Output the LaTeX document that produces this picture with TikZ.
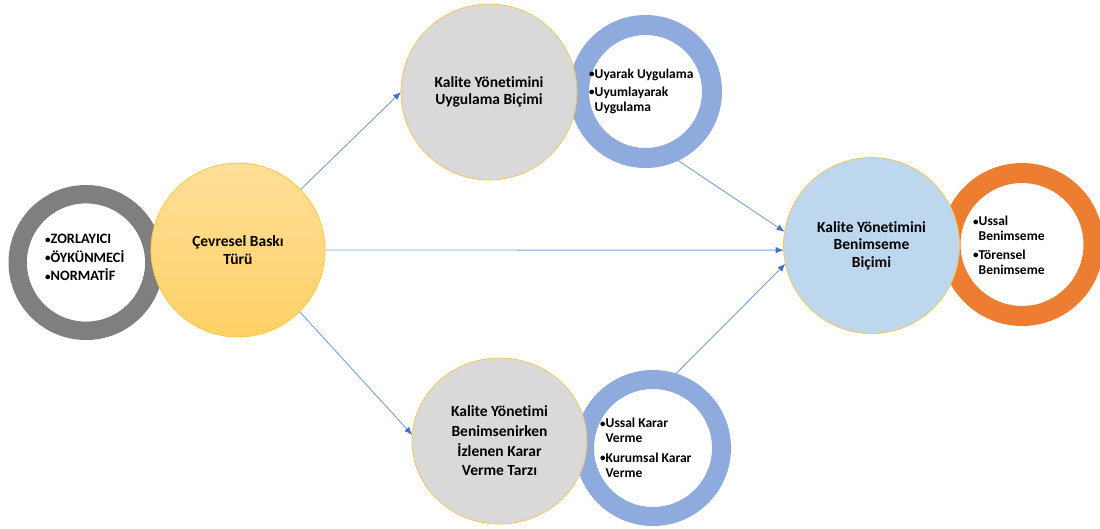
\documentclass[tikz,border=0pt]{standalone}
\usepackage{fontspec}
\setmainfont{Carlito}[Ligatures={NoCommon}]
\usetikzlibrary{arrows.meta,shapes.geometric,backgrounds}
\definecolor{ringgray}{HTML}{7F7F7F}
\definecolor{ringblue}{HTML}{8FAADC}
\definecolor{ringorange}{HTML}{ED7D31}
\definecolor{circgray}{HTML}{D9D9D9}
\definecolor{circblue}{HTML}{BDD7EE}
\definecolor{rimgold}{HTML}{F2C75C}
\definecolor{yeltop}{HTML}{FFDE98}
\definecolor{yelbot}{HTML}{FFD165}
\definecolor{yelrim}{HTML}{FFC947}
\definecolor{connline}{HTML}{7B9FDA}
\definecolor{conntip}{HTML}{4472C4}
\newcommand{\blt}{\raisebox{0.6pt}{\fontsize{11}{11}\selectfont •}}
\newcommand{\bltsp}{\phantom{\blt}}
\begin{document}
\begin{tikzpicture}[x=1pt,y=-1pt,
  ring/.style={circle, draw=#1, inner sep=0pt, outer sep=0pt},
  maincirc/.style={circle, draw=rimgold, line width=0.8pt, inner sep=0pt, outer sep=0pt,
    font=\bfseries\fontsize{15.5}{17.5}\selectfont, align=center, text=black},
  ringtext/.style={font=\bfseries\fontsize{13.5}{15}\selectfont, align=left, anchor=west,
    inner sep=0pt, text=black},
  conn/.style={draw=connline, line width=0.9pt, -{Latex[length=8pt,width=6.5pt,color=conntip]}}
]
\useasboundingbox (0,0) rectangle (1100,528);
\clip (0,0) rectangle (1100,528);

% rings
\node[ring=ringgray, line width=18.4pt, minimum size=136.6pt] (lr) at (86,262.5) {};
\node[ring=ringblue, line width=20pt, minimum size=133pt] (tr) at (645.5,91.5) {};
\node[ring=ringblue, line width=19pt, minimum size=137pt] (br) at (653,448) {};
\node[ring=ringorange, line width=20pt, minimum size=143pt] (orr) at (1022,244.5) {};

% ring texts
\node[ringtext, font=\bfseries\fontsize{14.3}{18.5}\selectfont] (lrt) at (45,257.5)
  {\blt ZORLAYICI\\\blt ÖYKÜNMECİ\\\blt NORMATİF};
\node[ringtext] (trt) at (589,91.5)
  {\blt Uyarak Uygulama\\[3pt]\blt Uyumlayarak\\\bltsp Uygulama};
\node[ringtext] (brt) at (600,448)
  {\blt Ussal Karar\\\bltsp Verme\\[4.5pt]\blt Kurumsal Karar\\\bltsp Verme};
\node[ringtext] (orrt) at (973,245.5)
  {\blt Ussal\\\bltsp Benimseme\\[3.5pt]\blt Törensel\\\bltsp Benimseme};

% main circles
\node[maincirc, draw=yelrim, top color=yeltop, bottom color=yelbot, minimum size=174pt] (y) at (238,250)
  {Çevresel Baskı\\Türü};
\node[maincirc, fill=circgray, minimum size=176pt] (tg) at (489,92)
  {Kalite Yönetimini\\Uygulama Biçimi};
\node[maincirc, ellipse, fill=circgray, minimum width=175pt, minimum height=166pt,
  font=\bfseries\fontsize{15.5}{19.7}\selectfont] (bg) at (499.5,441)
  {Kalite Yönetimi\\Benimsenirken\\İzlenen Karar\\Verme Tarzı};
\node[maincirc, fill=circblue, minimum size=176pt] (rb) at (871.5,245.5)
  {Kalite Yönetimini\\Benimseme\\Biçimi};

% connectors
\begin{scope}[on background layer]
\draw[conn] (y.44) -- (tg.west);
\draw[conn] (y.east) -- (rb.183);
\draw[conn] (y.315.5) -- (bg.176);
\draw[conn] (tr.290) -- (rb.171);
\draw[conn] (br.77.5) -- (rb.192.5);
\end{scope}
\end{tikzpicture}
\end{document}
